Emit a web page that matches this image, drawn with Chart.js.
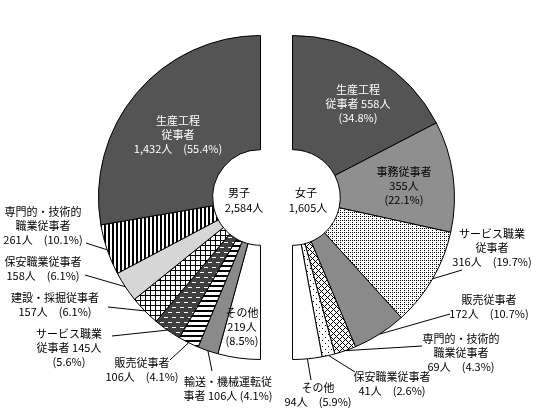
<!DOCTYPE html>
<html>
<head>
<meta charset="utf-8">
<script src="https://cdn.jsdelivr.net/npm/chart.js@4.4.1/dist/chart.umd.min.js"></script>
<style>
  body { margin: 0; background: #fff; }
  #wrap { position: relative; width: 545px; height: 418px; }
  #wrap canvas { position: absolute; left: 0; top: 0; }
</style>
</head>
<body>
<div id="wrap">
  <canvas id="maleChart" width="545" height="418"></canvas>
  <canvas id="femaleChart" width="545" height="418"></canvas>
</div>
<script>
// ==================== DATA ====================

// 男子: 上から反時計回り
const maleCategories = ['生産工程従事者', '専門的・技術的職業従事者', '保安職業従事者', '建設・採掘従事者', 'サービス職業従事者', '販売従事者', '輸送・機械運転従事者', 'その他'];
const maleValues = [1432, 261, 158, 157, 145, 106, 106, 219];

// 女子: 上から時計回り
const femaleCategories = ['生産工程従事者', '事務従事者', 'サービス職業従事者', '販売従事者', '専門的・技術的職業従事者', '保安職業従事者', 'その他'];
const femaleValues = [558, 355, 316, 172, 69, 41, 94];

const maleTitle = '男子';
const femaleTitle = '女子';

// ==================== PATTERNS ====================

function makePattern(w, h, bg, draw) {
    const c = document.createElement('canvas');
    c.width = w; c.height = h;
    const g = c.getContext('2d');
    g.fillStyle = bg;
    g.fillRect(0, 0, w, h);
    g.fillStyle = '#000';
    draw(g);
    return g.createPattern(c, 'repeat');
}

const fills = {
    dark: '#545454',
    mid: '#8a8a8a',
    mid2: '#8f8f8f',
    light: '#d6d6d6',
    white: '#ffffff',
    vStripes: makePattern(4, 1, '#fff', g => g.fillRect(0, 0, 2, 1)),
    hStripes: makePattern(1, 5, '#fff', g => g.fillRect(0, 0, 1, 2)),
    grid: makePattern(5, 5, '#fff', g => { g.fillRect(0, 0, 5, 1); g.fillRect(0, 0, 1, 5); }),
    darkDash: makePattern(8, 10, '#404040', g => { g.fillStyle = '#fff'; g.fillRect(0, 2, 4, 1); g.fillRect(4, 7, 4, 1); }),
    dotGrid: makePattern(4, 4, '#fff', g => { g.fillRect(0, 0, 1, 1); g.fillRect(2, 0, 1, 1); g.fillRect(0, 2, 1, 1); }),
    diagCross: makePattern(6, 6, '#fff', g => {
        for (let x = 0; x < 6; x++) for (let y = 0; y < 6; y++) {
            if ((x + y) % 6 === 0 || (x - y + 6) % 6 === 0) g.fillRect(x, y, 1, 1);
        }
    }),
    sparseDots: makePattern(6, 6, '#fff', g => { g.fillRect(1, 1, 1, 1); g.fillRect(4, 4, 1, 1); })
};

const maleFills = [fills.dark, fills.vStripes, fills.light, fills.grid, fills.darkDash, fills.hStripes, fills.mid, fills.white];
const femaleFills = [fills.dark, fills.mid2, fills.dotGrid, fills.mid, fills.diagCross, fills.sparseDots, fills.white];

// ==================== LABEL LAYOUT ====================
// {n} = 人数, {p} = 構成比
const maleLabels = [
    { x: 178, y: 121, color: '#fff', lines: ['生産工程', '従事者', '{n}人　({p}%)'] },
    { x: 43, y: 212, lead: [86, 243], lines: ['専門的・技術的', '職業従事者', '{n}人　({p}%)'] },
    { x: 43, y: 262, lead: [85, 275], lines: ['保安職業従事者', '{n}人　({p}%)'] },
    { x: 55, y: 298, lead: [108, 307], lines: ['建設・採掘従事者', '{n}人　({p}%)'] },
    { x: 69, y: 334, lead: [112, 336], lines: ['サービス職業', '従事者 {n}人', '({p}%)'] },
    { x: 142, y: 363, lead: [170, 360], lines: ['販売従事者', '{n}人　({p}%)'] },
    { x: 228, y: 382, lead: [212, 371], lines: ['輸送・機械運転従', '事者 {n}人 ({p}%)'] },
    { x: 242, y: 313, lines: ['その他', '{n}人', '({p}%)'] }
];
const femaleLabels = [
    { x: 358, y: 90, color: '#fff', lines: ['生産工程', '従事者 {n}人', '({p}%)'] },
    { x: 404, y: 172, lines: ['事務従事者', '{n}人', '({p}%)'] },
    { x: 492, y: 234, lead: [462, 270], lines: ['サービス職業', '従事者', '{n}人　({p}%)'] },
    { x: 489, y: 300, lead: [450, 314], lines: ['販売従事者', '{n}人　({p}%)'] },
    { x: 461, y: 339, lead: [422, 346], lines: ['専門的・技術的', '職業従事者', '{n}人　({p}%)'] },
    { x: 392, y: 377, lead: [355, 372], lines: ['保安職業従事者', '{n}人　({p}%)'] },
    { x: 318, y: 388, lead: [311, 380], lines: ['その他', '{n}人　({p}%)'] }
];

const FONT = '11px "Noto Sans CJK JP", sans-serif';
const LINE_H = 14;

// ==================== CHARTS ====================

function fmt(v) { return v.toLocaleString('en-US'); }

// reversed: 左半分はデータを逆順で描いているので index を戻す
function labelPlugin(labels, values, reversed, title, titlePos) {
    const total = values.reduce((a, b) => a + b, 0);
    return {
        id: 'sideLabels',
        afterDatasetsDraw(chart) {
            const ctx = chart.ctx;
            const arcs = chart.getDatasetMeta(0).data;
            ctx.save();
            ctx.font = FONT;
            ctx.textAlign = 'center';
            ctx.textBaseline = 'middle';
            labels.forEach((lb, i) => {
                const v = values[i];
                const p = (v / total * 100).toFixed(1);
                if (lb.lead) {
                    const arc = arcs[reversed ? values.length - 1 - i : i];
                    const { x, y, startAngle, endAngle, outerRadius } = arc.getProps(['x', 'y', 'startAngle', 'endAngle', 'outerRadius'], true);
                    const mid = (startAngle + endAngle) / 2;
                    ctx.strokeStyle = '#000';
                    ctx.lineWidth = 1;
                    ctx.beginPath();
                    ctx.moveTo(lb.lead[0], lb.lead[1]);
                    ctx.lineTo(x + Math.cos(mid) * outerRadius, y + Math.sin(mid) * outerRadius);
                    ctx.stroke();
                }
                ctx.fillStyle = lb.color || '#000';
                lb.lines.forEach((t, k) => {
                    const s = t.replace('{n}', fmt(v)).replace('{p}', p);
                    ctx.fillText(s, lb.x, lb.y + k * LINE_H);
                });
            });
            ctx.fillStyle = '#000';
            ctx.fillText(title, titlePos[0], titlePos[1]);
            ctx.fillText(fmt(total) + '人', titlePos[2], titlePos[3]);
            ctx.restore();
        }
    };
}

const baseOptions = {
    responsive: false,
    devicePixelRatio: 1,
    animation: false,
    events: [],
    cutout: '29.5%',
    circumference: 180,
    plugins: { legend: { display: false }, tooltip: { enabled: false } }
};

const maleCtx = document.getElementById('maleChart').getContext('2d');
const maleChart = new Chart(maleCtx, {
    type: 'doughnut',
    data: {
        labels: maleCategories.slice().reverse(),
        datasets: [{
            data: maleValues.slice().reverse(),
            backgroundColor: maleFills.slice().reverse(),
            borderColor: '#000',
            borderWidth: 1
        }]
    },
    options: { ...baseOptions, rotation: 180, layout: { padding: { left: 98, right: 284, top: 34, bottom: 57 } } },
    plugins: [labelPlugin(maleLabels, maleValues, true, maleTitle, [239, 193, 244, 208])]
});

const femaleCtx = document.getElementById('femaleChart').getContext('2d');
const femaleChart = new Chart(femaleCtx, {
    type: 'doughnut',
    data: {
        labels: femaleCategories,
        datasets: [{
            data: femaleValues,
            backgroundColor: femaleFills,
            borderColor: '#000',
            borderWidth: 1
        }]
    },
    options: { ...baseOptions, rotation: 0, layout: { padding: { left: 292, right: 90, top: 34, bottom: 57 } } },
    plugins: [labelPlugin(femaleLabels, femaleValues, false, femaleTitle, [306, 193, 308, 208])]
});
</script>
</body>
</html>
